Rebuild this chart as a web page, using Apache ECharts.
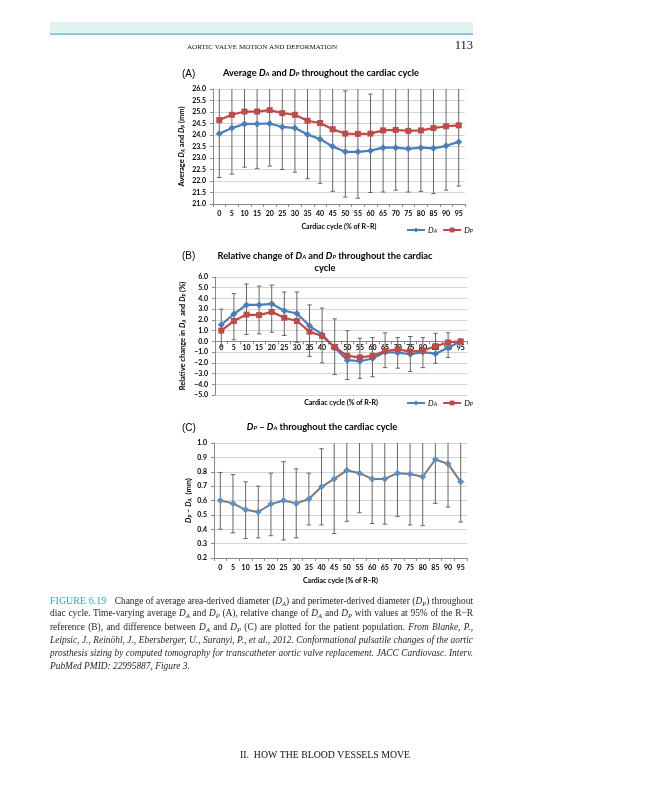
<!DOCTYPE html>
<html><head><meta charset="utf-8">
<script src="https://cdn.jsdelivr.net/npm/echarts@6/dist/echarts.min.js"></script>
<style>
html,body{margin:0;padding:0;background:#fff;}
#chart{position:absolute;left:0;top:0;width:648px;height:800px;}
#caption{position:absolute;left:50px;top:594px;width:423px;font-family:"Liberation Serif","DejaVu Serif",serif;font-size:9.4px;line-height:13.3px;color:#231f20;}
#caption .ln{text-align:justify;text-align-last:justify;height:13.3px;overflow:hidden;}
#caption .last{text-align:left;text-align-last:left;}
#caption .fig{color:#28a9bb;font-size:10px;margin-right:6px;}
.sb{font-size:70%;position:relative;top:2px;}
</style>
</head><body>
<div id="chart"></div>
<div id="caption">
<div class="ln"><span class="fig">FIGURE 6.19</span> Change of average area-derived diameter (<i>D</i><span class="sb"><i>A</i></span>) and perimeter-derived diameter (<i>D</i><span class="sb"><i>P</i></span>) throughout the car-</div>
<div class="ln">diac cycle. Time-varying average <i>D</i><span class="sb"><i>A</i></span> and <i>D</i><span class="sb"><i>P</i></span> (A), relative change of <i>D</i><span class="sb"><i>A</i></span> and <i>D</i><span class="sb"><i>P</i></span> with values at 95% of the R&minus;R interval as</div>
<div class="ln">reference (B), and difference between <i>D</i><span class="sb"><i>A</i></span> and <i>D</i><span class="sb"><i>P</i></span> (C) are plotted for the patient population. <i>From Blanke, P., Russe, M.,</i></div>
<div class="ln"><i>Leipsic, J., Reinöhl, J., Ebersberger, U., Suranyi, P., et al., 2012. Conformational pulsatile changes of the aortic annulus: impact on</i></div>
<div class="ln"><i>prosthesis sizing by computed tomography for transcatheter aortic valve replacement. JACC Cardiovasc. Interv. 5 (9), 984&minus;994.</i></div>
<div class="ln last"><i>PubMed PMID: 22995887, Figure 3.</i></div>
</div>
<script>
// ---------- data ----------
var categories = ['0','5','10','15','20','25','30','35','40','45','50','55','60','65','70','75','80','85','90','95'];

// (A) average diameters (mm)
var avgDA = [24.05,24.30,24.48,24.48,24.50,24.35,24.30,24.02,23.82,23.50,23.27,23.27,23.32,23.45,23.45,23.40,23.45,23.42,23.53,23.70];
var avgDP = [24.65,24.88,25.02,25.02,25.08,24.95,24.88,24.62,24.52,24.25,24.06,24.05,24.06,24.20,24.22,24.18,24.20,24.30,24.38,24.42];
var errLowA  = [22.15,22.30,22.60,22.55,22.65,22.50,22.38,22.10,21.90,21.55,21.30,21.25,21.50,21.52,21.60,21.52,21.55,21.45,21.60,21.78];
var errHighA = [26.55,26.88,26.90,26.95,26.93,26.80,26.80,26.54,26.44,26.20,25.92,26.02,25.78,26.13,26.07,26.06,26.10,26.27,26.31,26.34];

// (B) relative change (%)
var relDA = [1.55,2.55,3.40,3.40,3.50,2.85,2.60,1.45,0.65,-0.60,-1.75,-1.85,-1.60,-1.00,-1.05,-1.20,-1.00,-1.15,-0.60,0.00];
var relDP = [1.00,1.90,2.50,2.45,2.75,2.20,1.90,0.90,0.50,-0.55,-1.35,-1.50,-1.35,-0.90,-0.75,-0.95,-0.85,-0.45,-0.10,0.00];
var errLowB  = [-0.50,0.15,0.65,0.70,0.85,0.55,-0.10,-1.40,-2.00,-3.10,-3.55,-3.45,-3.30,-2.45,-2.50,-2.80,-2.45,-2.05,-1.50,null];
var errHighB = [3.00,4.45,5.35,5.15,5.25,4.60,4.60,3.40,3.10,2.10,1.00,0.30,0.35,0.80,0.35,0.45,0.35,0.75,0.80,null];

// (C) DP - DA (mm)
var diffDPDA = [0.600,0.580,0.535,0.520,0.575,0.600,0.580,0.610,0.695,0.750,0.810,0.790,0.750,0.750,0.790,0.785,0.765,0.885,0.855,0.730];
var errLowC  = [0.400,0.375,0.335,0.340,0.355,0.325,0.340,0.430,0.430,0.370,0.455,0.515,0.440,0.435,0.490,0.430,0.425,0.580,0.555,0.450];
var errHighC = [0.795,0.780,0.730,0.700,0.790,0.870,0.820,0.790,0.960,1.130,1.165,1.065,1.060,1.065,1.090,1.140,1.105,1.190,1.155,1.010];

// ---------- helpers ----------
var FONT = 'Lato, "Liberation Sans", sans-serif';
function richOf(size){
  return {
    i:{fontStyle:'italic',fontWeight:'bold',fontFamily:FONT,fontSize:size,color:'#000'},
    s:{fontStyle:'italic',fontWeight:'bold',fontFamily:FONT,fontSize:Math.round(size*0.65*10)/10,padding:[Math.round(size*0.35),0,0,0],color:'#000'},
    n:{fontWeight:'bold',fontFamily:FONT,fontSize:size,color:'#000'}
  };
}
function errData(lo, hi){
  return categories.map(function(c,i){ return [i, lo[i], hi[i]]; });
}
function errRender(params, api){
  var lv = api.value(1), hv = api.value(2);
  if (lv == null || hv == null || isNaN(lv) || isNaN(hv)) return null;
  var i = api.value(0);
  var lo = api.coord([i, lv]);
  var hi = api.coord([i, hv]);
  var w = 2.2;
  var st = {stroke:'#666666', lineWidth:1};
  return {type:'group', children:[
    {type:'line', shape:{x1:lo[0],y1:lo[1],x2:hi[0],y2:hi[1]}, style:st},
    {type:'line', shape:{x1:lo[0]-w,y1:lo[1],x2:lo[0]+w,y2:lo[1]}, style:st},
    {type:'line', shape:{x1:hi[0]-w,y1:hi[1],x2:hi[0]+w,y2:hi[1]}, style:st}
  ]};
}
function fmt1(v){ var s = v.toFixed(1); return s.charAt(0)==='-' ? '\u2212'+s.slice(1) : s; }

var axisLab = {fontFamily:FONT, fontWeight:'bold', fontSize:7, color:'#000'};
var gridLine = {show:true, lineStyle:{color:'#d4d4d4', width:1}};
var axLine = {show:true, lineStyle:{color:'#8a8a8a', width:1}};

// grid B geometry: zero line offset from bottom
var gB = {left:215, top:277, width:252, height:118};
var yBmin = -5, yBmax = 6;
var zeroOffsetB = -gB.height * (0 - yBmin) / (yBmax - yBmin);

function xAx(gi, name, offset){
  var o = {
    type:'category', gridIndex:gi, data:categories, boundaryGap:true,
    axisLine:{show:true, onZero:false, lineStyle:{color:'#8a8a8a'}},
    axisTick:{show:true, length:3, lineStyle:{color:'#8a8a8a'}},
    axisLabel:Object.assign({margin:offset?3:6, interval:0}, axisLab),
    splitLine:{show:false}
  };
  if (offset) o.offset = offset;
  if (name){
    o.name = name; o.nameLocation='middle'; o.nameGap=19;
    o.nameTextStyle = {fontFamily:FONT, fontWeight:'bold', fontSize:7, color:'#000'};
  }
  return o;
}
function yAx(gi, min, max, itv, name, gap){
  return {
    type:'value', gridIndex:gi, min:min, max:max, interval:itv,
    axisLine:axLine, axisTick:{show:true,length:3,lineStyle:{color:'#8a8a8a'}},
    axisLabel:Object.assign({margin:7, formatter:fmt1}, axisLab),
    splitLine:gridLine,
    name:name, nameLocation:'middle', nameGap:gap, nameRotate:90,
    nameTextStyle:{fontFamily:FONT, fontWeight:'bold', fontSize:7.5, color:'#000', rich:richOf(7.5)}
  };
}

var chart = echarts.init(document.getElementById('chart'), null, {renderer:'canvas'});

var serifFont = '"Liberation Serif","DejaVu Serif",serif';
var graphics = [
  {type:'rect', shape:{x:50,y:22,width:423,height:12}, style:{fill:'#dff3f3'}, silent:true},
  {type:'rect', shape:{x:50,y:33.5,width:423,height:1.3}, style:{fill:'#49b3bb'}, silent:true},
  {type:'text', x:262, y:47, style:{text:'AORTIC VALVE MOTION AND DEFORMATION', fontFamily:serifFont, fontSize:7.1, fill:'#111', align:'center', verticalAlign:'middle'}},
  {type:'text', x:473, y:46, style:{text:'113', fontFamily:serifFont, fontSize:12.5, fill:'#111', align:'right', verticalAlign:'middle'}},
  {type:'text', x:325, y:755, style:{text:'II.  HOW THE BLOOD VESSELS MOVE', fontFamily:serifFont, fontSize:9.8, fill:'#111', align:'center', verticalAlign:'middle'}},
  {type:'text', x:182, y:74, style:{text:'(A)', fontFamily:'"Liberation Sans",sans-serif', fontSize:10, fill:'#000', verticalAlign:'middle'}},
  {type:'text', x:182, y:256, style:{text:'(B)', fontFamily:'"Liberation Sans",sans-serif', fontSize:10, fill:'#000', verticalAlign:'middle'}},
  {type:'text', x:182, y:428, style:{text:'(C)', fontFamily:'"Liberation Sans",sans-serif', fontSize:10, fill:'#000', verticalAlign:'middle'}},
  {type:'text', x:321, y:73, style:{text:'{n|Average }{i|D}{s|A}{n| and }{i|D}{s|P}{n| throughout the cardiac cycle}', rich:richOf(9.3), align:'center', verticalAlign:'middle'}},
  {type:'text', x:325, y:256, style:{text:'{n|Relative change of }{i|D}{s|A}{n| and }{i|D}{s|P}{n| throughout the cardiac}', rich:richOf(9.3), align:'center', verticalAlign:'middle'}},
  {type:'text', x:325, y:268, style:{text:'{n|cycle}', rich:richOf(9.3), align:'center', verticalAlign:'middle'}},
  {type:'text', x:322, y:427, style:{text:'{i|D}{s|P}{n| \u2013 }{i|D}{s|A}{n| throughout the cardiac cycle}', rich:richOf(9.3), align:'center', verticalAlign:'middle'}},
  {type:'text', x:341, y:403, style:{text:'Cardiac cycle (% of R-R)', fontFamily:FONT, fontWeight:'bold', fontSize:7, fill:'#000', align:'center', verticalAlign:'middle'}}
];

function legendAt(top){
  return {
    left:406, top:top, padding:0, itemWidth:18, itemHeight:6, itemGap:5,
    data:['DA','DP'], selectedMode:false,
    formatter:function(n){ return n==='DA' ? '{i|D}{s|A}' : '{i|D}{s|P}'; },
    textStyle:{padding:[0,0,0,-2], rich:{
      i:{fontStyle:'italic',fontFamily:FONT,fontSize:8,color:'#000'},
      s:{fontStyle:'italic',fontFamily:FONT,fontSize:5.5,padding:[3,0,0,0],color:'#000'}
    }}
  };
}

var blue = '#4a7ebb', red = '#be4b48';
function lineSeries(name, data, xi, yi, color, symbol, size){
  return {type:'line', name:name, xAxisIndex:xi, yAxisIndex:yi, data:data,
    symbol:symbol, symbolSize:size, lineStyle:{color:color, width:2.2},
    itemStyle:{color:color}, z:5, animation:false};
}

var option = {
  animation:false,
  graphic:graphics,
  legend:[legendAt(226), legendAt(399)],
  grid:[
    {left:213, top:89, width:252, height:115, containLabel:false},
    {left:gB.left, top:gB.top, width:gB.width, height:gB.height, containLabel:false},
    {left:214, top:443, width:253, height:115, containLabel:false}
  ],
  xAxis:[
    xAx(0, 'Cardiac cycle (% of R\u2013R)', 0),
    xAx(1, null, zeroOffsetB),
    xAx(2, 'Cardiac cycle (% of R\u2013R)', 0)
  ],
  yAxis:[
    yAx(0, 21, 26, 0.5, '{n|Average }{i|D}{s|A}{n| and }{i|D}{s|P}{n| (mm)}', 27),
    yAx(1, yBmin, yBmax, 1, '{n|Relative change in }{i|D}{s|A}{n|  and }{i|D}{s|P}{n| (%)}', 28),
    yAx(2, 0.2, 1.0, 0.1, '{i|D}{s|P}{n| \u2013 }{i|D}{s|A}{n|  (mm)}', 21)
  ],
  series:[
    {type:'custom', xAxisIndex:0, yAxisIndex:0, data:errData(errLowA, errHighA), renderItem:errRender, clip:true, z:2, encode:{x:0,y:[1,2]}},
    lineSeries('DA', avgDA, 0, 0, blue, 'diamond', 7),
    lineSeries('DP', avgDP, 0, 0, red, 'rect', 6),
    {type:'custom', xAxisIndex:1, yAxisIndex:1, data:errData(errLowB, errHighB), renderItem:errRender, clip:true, z:2, encode:{x:0,y:[1,2]}},
    lineSeries('DA', relDA, 1, 1, blue, 'diamond', 7),
    lineSeries('DP', relDP, 1, 1, red, 'rect', 6),
    {type:'custom', xAxisIndex:2, yAxisIndex:2, data:errData(errLowC, errHighC), renderItem:errRender, clip:true, z:2, encode:{x:0,y:[1,2]}},
    {type:'line', name:'DP \u2013 DA', xAxisIndex:2, yAxisIndex:2, data:diffDPDA, symbol:'diamond', symbolSize:7,
      lineStyle:{color:'#7a7a7a', width:2}, itemStyle:{color:'#5b8fcb'}, z:5}
  ]
};
chart.setOption(option);
</script>
</body></html>
